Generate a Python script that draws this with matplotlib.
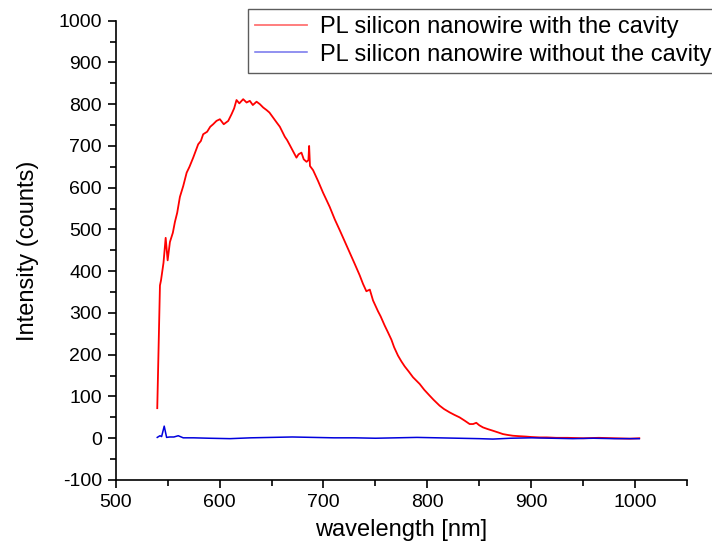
import matplotlib
matplotlib.use('Agg')
import matplotlib.pyplot as plt
from matplotlib.ticker import MultipleLocator

# PL spectrum, silicon nanowire with the cavity
red_x = [540.0, 542.6, 543.6, 546, 548.1, 550, 552.2, 555, 557, 559.2, 561.8, 565,
         568.3, 571, 574.6, 577, 579.4, 582, 584.2, 588, 591, 593.8, 597, 600.3,
         604, 608.3, 611.5, 614, 616.3, 619, 622.7, 626, 629.1, 632, 635.6, 638.8,
         642, 645.2, 648, 651.5, 655, 658, 660, 662.8, 665, 667.6, 671, 674, 676,
         678.8, 681, 683.7, 685.5, 686.2, 687, 690, 694.8, 699.6, 703, 706, 710.9,
         715.7, 720, 725, 730, 734.9, 738, 741.3, 744.6, 747.7, 752.5, 755, 758.9,
         762, 765.4, 768, 771.7, 775, 778.2, 782, 786.2, 792.6, 797, 802.2, 806,
         811.8, 816, 821.4, 826, 831, 836, 840.7, 844, 847.1, 850, 853.5, 858,
         863.1, 868, 872.7, 877, 882.3, 888, 895, 900, 908, 915, 924, 935, 950,
         965, 980, 995, 1004]
red_y = [72, 366, 378, 420, 480, 426, 470, 492, 518, 540, 578, 604,
         636, 650, 672, 688, 704, 712, 728, 734, 746, 752, 760, 764,
         752, 760, 776, 790, 810, 802, 812, 804, 808, 798, 806, 800,
         792, 786, 780, 768, 756, 746, 736, 722, 714, 702, 686, 672, 680,
         684, 668, 662, 666, 700, 652, 642, 616, 588, 570, 554, 524,
         498, 474, 446, 418, 390, 370, 352, 356, 330, 304, 292, 270,
         254, 236, 218, 198, 184, 172, 160, 146, 130, 116, 102, 92,
         78, 70, 62, 56, 50, 42, 34, 34, 37, 31, 26, 22,
         18, 14, 10, 8, 6, 5, 4, 3, 2, 2, 1, 1, 0,
         1, 0, -1, 0]

# PL spectrum, silicon nanowire without the cavity
blue_x = [540, 542.6, 544.2, 546.7, 549, 552, 556, 560.2, 565, 575, 590, 610, 630,
          650, 670, 690, 710, 730, 750, 770, 790, 810, 830, 850, 863, 880, 900,
          920, 940, 960, 980, 1004]
blue_y = [2, 6, 4, 29, 2, 3, 3, 6, 1, 1, 0, -1, 1,
          2, 3, 2, 1, 1, 0, 1, 2, 1, 0, -1, -2, 0, 1,
          0, -1, 0, -1, -1]

labels = ['PL silicon nanowire with the cavity',
          'PL silicon nanowire without the cavity']


def main():
    plt.rcParams['font.family'] = ['Liberation Sans', 'DejaVu Sans']
    plt.rcParams['axes.unicode_minus'] = False
    fig = plt.figure(figsize=(7.12, 5.56), dpi=100)
    ax = fig.add_axes([0.1625, 0.1367, 0.8025, 0.8261])

    ax.plot(red_x, red_y, color='#ff0000', lw=1.3, label=labels[0])
    ax.plot(blue_x, blue_y, color='#0000dd', lw=1.1, label=labels[1])

    ax.set_xlim(500, 1050)
    ax.set_ylim(-100, 1000)
    ax.xaxis.set_major_locator(MultipleLocator(100))
    ax.xaxis.set_minor_locator(MultipleLocator(50))
    ax.yaxis.set_major_locator(MultipleLocator(100))
    ax.yaxis.set_minor_locator(MultipleLocator(50))
    ax.set_xticks([500, 600, 700, 800, 900, 1000])

    for s in ['top', 'right']:
        ax.spines[s].set_visible(False)
    for s in ['left', 'bottom']:
        ax.spines[s].set_linewidth(1.2)
    ax.tick_params(which='major', direction='out', length=6, width=1.2,
                   labelsize=14, pad=4)
    ax.tick_params(which='minor', direction='out', length=4, width=1.2)

    ax.set_xlabel('wavelength [nm]', fontsize=17, labelpad=6)
    ax.set_ylabel('Intensity (counts)', fontsize=17, labelpad=14)

    leg = fig.legend(loc='upper left', bbox_to_anchor=(248 / 712, 1 - 9.3 / 556),
                     bbox_transform=fig.transFigure, borderaxespad=0,
                     fontsize=17, fancybox=False, handlelength=2.2,
                     handletextpad=0.55, borderpad=0.3, labelspacing=0.22)
    leg.get_frame().set_edgecolor('#333333')
    leg.get_frame().set_linewidth(1.0)
    for line in leg.get_lines():
        line.set_alpha(0.55)

    fig.savefig('out.png', dpi=100)


if __name__ == "__main__":
    main()
